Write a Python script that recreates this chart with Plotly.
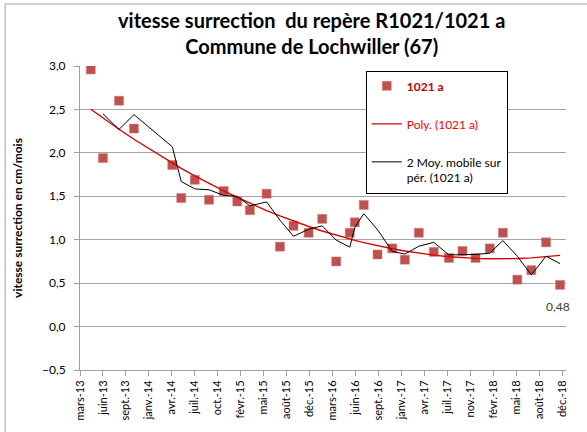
import numpy as np
import pandas as pd
import plotly.graph_objects as go

# ---- data ----
dates = ["2013-04-24", "2013-06-16", "2013-08-25", "2013-10-29", "2014-04-14", "2014-05-23",
         "2014-07-21", "2014-09-21", "2014-11-24", "2015-01-22", "2015-03-18", "2015-05-30",
         "2015-07-27", "2015-09-24", "2015-11-29", "2016-01-27", "2016-03-28", "2016-05-26",
         "2016-06-17", "2016-07-26", "2016-09-24", "2016-11-27", "2017-01-21", "2017-03-23",
         "2017-05-27", "2017-08-01", "2017-09-29", "2017-11-25", "2018-01-26", "2018-03-24",
         "2018-05-26", "2018-07-26", "2018-09-28", "2018-11-28"]
values = [2.96, 1.94, 2.60, 2.28, 1.86, 1.48, 1.69, 1.46, 1.56, 1.44, 1.34, 1.53,
          0.92, 1.16, 1.08, 1.24, 0.75, 1.08, 1.20, 1.40, 0.83, 0.90, 0.77, 1.08,
          0.86, 0.79, 0.87, 0.79, 0.90, 1.08, 0.54, 0.65, 0.97, 0.48]
tick_labels = ["mars-13", "juin-13", "sept.-13", "janv.-14", "avr.-14", "juil.-14", "oct.-14",
               "févr.-15", "mai-15", "août-15", "déc.-15", "mars-16", "juin-16", "sept.-16",
               "janv.-17", "avr.-17", "juil.-17", "nov.-17", "févr.-18", "mai-18", "août-18",
               "déc.-18"]
axis_start = "2013-03-08"
tick_step_days = 100
axis_span_days = 2117

series_name = "1021 a"
title_lines = ["vitesse surrection  du repère R1021/1021 a", "Commune de Lochwiller (67)"]
y_title = "vitesse surrection en cm/mois"

# ---- derived ----
d = pd.to_datetime(dates)
start = pd.Timestamp(axis_start)
xd = np.array((d - start).days, dtype=float)
vals = np.array(values)

coef = np.polyfit(xd, vals, 2)
poly = np.polyval(coef, xd)

mavg = (vals[1:] + vals[:-1]) / 2.0

tickvals = [start + pd.Timedelta(days=tick_step_days * k) for k in range(len(tick_labels))]

FONT = "Lato"

fig = go.Figure()
fig.add_trace(go.Scatter(
    x=d, y=vals, mode="markers",
    name="<b><span style='color:#C00000'>%s</span></b>" % series_name,
    marker=dict(symbol="square", size=9, color="#C0504D",
                line=dict(color="#D07874", width=0.5)),
    legendgroup="a"))
fig.add_trace(go.Scatter(
    x=d, y=poly, mode="lines",
    name="<span style='color:#FF0000'>Poly. (%s)</span>" % series_name,
    line=dict(color="#E00000", width=1.4),
    legendgroup="b"))
fig.add_trace(go.Scatter(
    x=d[1:], y=mavg, mode="lines",
    name="2 Moy. mobile sur<br>pér. (%s)" % series_name,
    line=dict(color="black", width=1),
    legendgroup="c"))

fig.add_annotation(x=d[-1], y=vals[-1], text=("%.2f" % vals[-1]).replace(".", ","),
                   showarrow=False, yshift=-22, xshift=-2,
                   font=dict(family=FONT, size=12, color="#404040"))

fig.add_shape(type="rect", xref="paper", yref="paper",
              x0=-0.154, x1=1.2, y0=-0.5, y1=1.204,
              line=dict(color="#A0A0A0", width=1), fillcolor="rgba(0,0,0,0)")

fig.update_layout(
    width=587, height=432,
    margin=dict(l=80, r=21, t=66, b=62, autoexpand=False),
    paper_bgcolor="white", plot_bgcolor="white",
    separators=", ",
    font=dict(family=FONT, size=12, color="#000000"),
    title=dict(text="<b>" + "<br>".join(title_lines) + "</b>",
               x=0.531, xanchor="center", y=0.935, yanchor="top",
               font=dict(family=FONT, size=20, color="#000000")),
    showlegend=True,
    legend=dict(x=0.588, y=0.985, xanchor="left", yanchor="top",
                bgcolor="white", bordercolor="#000000", borderwidth=1,
                font=dict(family=FONT, size=12, color="#000000"),
                tracegroupgap=19, valign="top", entrywidth=98,
                traceorder="grouped"),
    xaxis=dict(type="date",
               range=[start, start + pd.Timedelta(days=axis_span_days)],
               tickmode="array", tickvals=tickvals, ticktext=tick_labels,
               tickangle=-90, ticks="outside", ticklen=5, tickcolor="#A0A0A0",
               showline=True, linecolor="#A0A0A0", linewidth=1,
               showgrid=False, zeroline=False,
               tickfont=dict(family=FONT, size=11, color="#000000")),
    yaxis=dict(range=[-0.5, 3.0], dtick=0.5, tick0=0, tickformat=".1f",
               ticks="outside", ticklen=5, tickcolor="#A0A0A0",
               ticklabelstandoff=6,
               showline=True, linecolor="#A0A0A0", linewidth=1,
               showgrid=True, gridcolor="#A6A6A6", gridwidth=1,
               zeroline=False,
               tickfont=dict(family=FONT, size=12, color="#000000"),
               title=dict(text="<b>" + y_title + "</b>", standoff=16,
                          font=dict(family=FONT, size=12, color="#000000"))),
)

fig.write_html("out.html", config={"displayModeBar": False},
               post_script="document.body.style.margin='0';")
